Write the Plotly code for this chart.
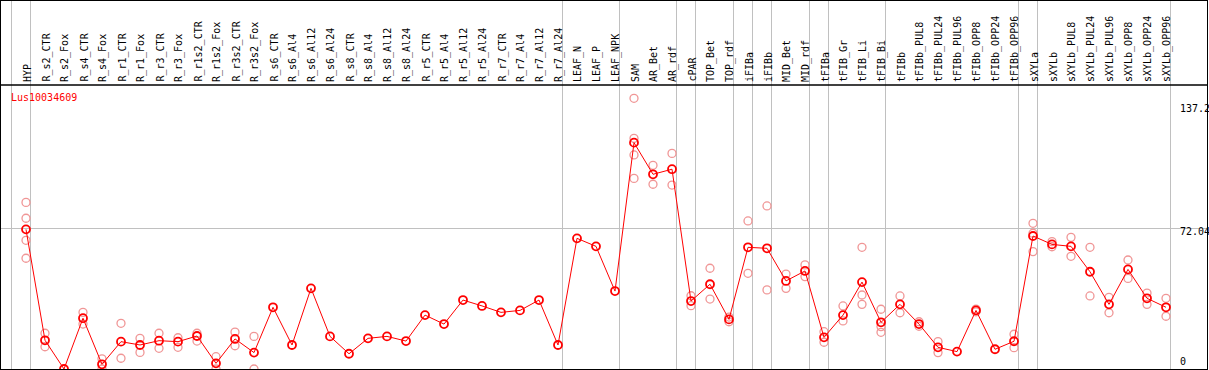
import plotly.graph_objects as go

categories = ["HYP", "R_s2_CTR", "R_s2_Fox", "R_s4_CTR", "R_s4_Fox", "R_r1_CTR", "R_r1_Fox",
              "R_r3_CTR", "R_r3_Fox", "R_r1s2_CTR", "R_r1s2_Fox", "R_r3s2_CTR", "R_r3s2_Fox",
              "R_s6_CTR", "R_s6_Al4", "R_s6_Al12", "R_s6_Al24", "R_s8_CTR", "R_s8_Al4",
              "R_s8_Al12", "R_s8_Al24", "R_r5_CTR", "R_r5_Al4", "R_r5_Al12", "R_r5_Al24",
              "R_r7_CTR", "R_r7_Al4", "R_r7_Al12", "R_r7_Al24", "LEAF_N", "LEAF_P", "LEAF_NPK",
              "SAM", "AR_Bet", "AR_rdf", "cPAR", "TOP_Bet", "TOP_rdf", "iFIBa", "iFIBb",
              "MID_Bet", "MID_rdf", "tFIBa", "tFIB_Gr", "tFIB_Li", "tFIB_Bi", "tFIBb",
              "tFIBb_PUL8", "tFIBb_PUL24", "tFIBb_PUL96", "tFIBb_OPP8", "tFIBb_OPP24",
              "tFIBb_OPP96", "sXYLa", "sXYLb", "sXYLb_PUL8", "sXYLb_PUL24", "sXYLb_PUL96",
              "sXYLb_OPP8", "sXYLb_OPP24", "sXYLb_OPP96"]

mean_vals = [71.5, 14.7, 0.0, 26.0, 2.4, 14.0, 12.3, 14.5, 14.0, 16.9, 2.9, 15.4, 8.4,
             31.6, 12.3, 41.3, 16.7, 7.8, 15.7, 16.7, 14.3, 27.6, 23.0, 35.3, 32.3,
             29.0, 30.0, 35.3, 12.3, 66.9, 62.8, 39.9,
             115.9, 99.7, 102.3, 34.8, 43.4, 25.4, 62.3, 61.8, 45.1, 50.2, 16.2, 27.6,
             44.5, 23.9, 33.1, 23.0, 11.1, 8.9, 30.0, 10.1, 14.2,
             68.1, 63.8, 62.8, 49.8, 33.1, 51.0, 36.2, 31.6]

N = None
rep_a = [85.3, 18.3, N, 29.0, 5.2, 23.4, 15.7, 18.3, 16.0, 18.3, 6.3, 18.9, 16.7,
         N, N, N, N, N, N, N, N, N, N, N, N, N, N, N, N, N, N, N,
         138.6, 104.3, 110.4, 37.5, 51.6, 26.6, 75.8, 83.5, 48.6, 53.3, 19.1, 32.3,
         62.3, 30.6, 37.4, 24.2, 14.0, N, 30.7, N, 17.8,
         74.6, 65.2, 67.4, 62.3, 36.7, 55.8, 38.9, 36.2]
rep_b = [77.2, 11.4, N, 23.0, 0.0, 5.5, 8.5, 10.6, 11.1, 14.3, 0.0, 11.9, 0.0,
         N, N, N, N, N, N, N, N, N, N, N, N, N, N, N, N, N, N, N,
         118.1, 94.6, 94.2, 32.4, 35.8, 24.2, 49.0, 40.5, 41.3, 47.3, 13.7, 24.6,
         37.9, 21.7, 28.8, 21.9, 8.4, N, 29.3, N, 10.9,
         69.5, 62.6, 57.7, 37.4, 28.8, 46.4, 33.1, 27.0]
rep_c = [65.9, N, N, N, N, N, N, N, N, N, N, N, N,
         N, N, N, N, N, N, N, N, N, N, N, N, N, N, N, N, N, N, N,
         109.6, N, N, N, N, N, N, N, N, N, N, N,
         33.1, 18.8, N, N, N, N, N, N, N,
         60.1, N, N, N, N, N, N, N]
rep_d = [56.7, N, N, N, N, N, N, N, N, N, N, N, N,
         N, N, N, N, N, N, N, N, N, N, N, N, N, N, N, N, N, N, N,
         97.6, N, N, N, N, N, N, N, N, N, N, N,
         N, N, N, N, N, N, N, N, N,
         N, N, N, N, N, N, N, N]

group_starts = [0, 1, 29, 32, 35, 36, 38, 39, 40, 42, 43, 46, 53, 54, 61]
y_tick_vals = [137.2, 72.04, 0]
y_tick_text = ["137.2", "72.04", "0"]
gene_name = "Lus10034609"

FONT = "DejaVu Sans Mono"
idx = list(range(len(categories)))

fig = go.Figure()

rx, ry = [], []
for reps in (rep_a, rep_b, rep_c, rep_d):
    for i, v in enumerate(reps):
        if v is not None:
            rx.append(i)
            ry.append(v)

fig.add_trace(go.Scatter(
    x=rx, y=ry, mode="markers",
    marker=dict(symbol="circle-open", size=8, color="rgb(240,150,150)",
                line=dict(width=1.3, color="rgb(240,150,150)")),
    hoverinfo="skip", showlegend=False))

fig.add_trace(go.Scatter(
    x=idx, y=mean_vals, mode="lines+markers",
    line=dict(color="#ff0000", width=1),
    marker=dict(symbol="circle-open", size=8, color="#ff0000",
                line=dict(width=1.8, color="#ff0000")),
    showlegend=False))

W, H = 1209, 370
ml, mr, mt, mb = 1, 2, 1, 1
plot_w = W - ml - mr
plot_h = H - mt - mb
step = 19.0
x0 = -(26 - ml) / step
x1 = x0 + plot_w / step
px_per_unit = 1.953
ymax = plot_h / px_per_unit

sep_px = 85
sep_paper = (H - mb - sep_px) / plot_h

annotations = []
for i, c in enumerate(categories):
    annotations.append(dict(
        x=i, y=sep_paper, xref="x", yref="paper", text=c, textangle=-90,
        showarrow=False, xanchor="center", yanchor="bottom", yshift=1, xshift=1,
        font=dict(family=FONT, size=10, color="black")))

annotations.append(dict(
    x=(9 - ml) / plot_w, y=(H - mb - 97) / plot_h, xref="paper", yref="paper",
    text=gene_name, showarrow=False, xanchor="left", yanchor="middle",
    font=dict(family=FONT, size=10, color="#ff0000")))

anchors = ["top", "middle", "bottom"]
shifts = [0, -3, 0]
for v, t, a, s in zip(y_tick_vals, y_tick_text, anchors, shifts):
    annotations.append(dict(
        x=(1178 - ml) / plot_w, y=v, xref="paper", yref="y", text=t,
        showarrow=False, xanchor="left", yanchor=a, yshift=s,
        font=dict(family=FONT, size=10, color="black")))

fig.update_layout(
    width=W, height=H,
    margin=dict(l=ml, r=mr, t=mt, b=mb, pad=0),
    paper_bgcolor="white", plot_bgcolor="white",
    xaxis=dict(range=[x0, x1], tickvals=[g - 0.76 for g in group_starts],
               showticklabels=False, ticks="", showgrid=True, gridcolor="#c0c0c0",
               gridwidth=1, zeroline=False, showline=True, mirror=True,
               linecolor="black", linewidth=1),
    yaxis=dict(range=[0, ymax], tickvals=[y_tick_vals[1]], showticklabels=False,
               ticks="", showgrid=True, gridcolor="#c0c0c0", gridwidth=1,
               zeroline=False, showline=True, mirror=True, linecolor="black",
               linewidth=1),
    annotations=annotations,
    shapes=[dict(type="line", xref="paper", yref="paper", x0=0, x1=1,
                 y0=sep_paper, y1=sep_paper, line=dict(color="black", width=1.5))],
    hovermode=False,
)

fig.write_html(
    "out.html",
    config={"displayModeBar": False},
    post_script="document.body.style.margin='0px';document.body.style.overflow='hidden';",
)
